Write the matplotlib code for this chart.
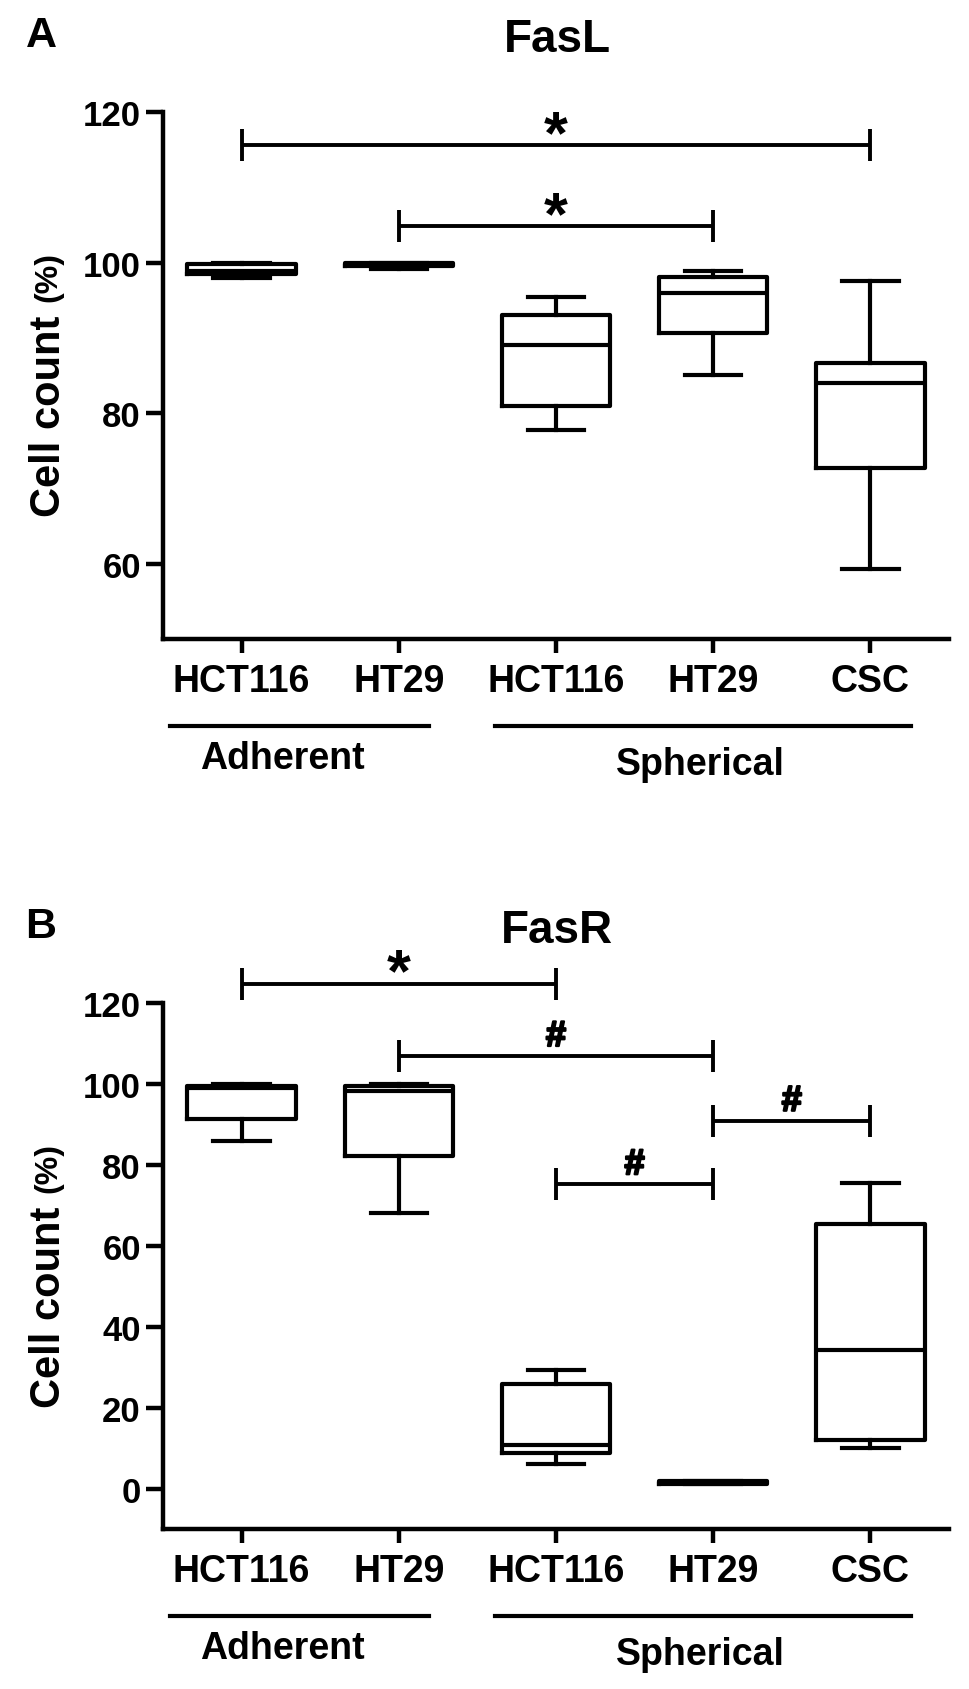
import matplotlib
matplotlib.use("Agg")
import matplotlib.pyplot as plt
import matplotlib.patheffects as pe
from matplotlib.transforms import blended_transform_factory

plt.rcParams['font.family'] = ['Liberation Sans', 'DejaVu Sans']
plt.rcParams['font.weight'] = 'bold'

# ---- data ----
categories = ['HCT116', 'HT29', 'HCT116', 'HT29', 'CSC']
positions = [1, 2, 3, 4, 5]
groups = ['Adherent', 'Spherical']

# FasL (panel A): whisker low, Q1, median, Q3, whisker high
fasl_whislo = [98.0, 99.1, 77.8, 85.1, 59.3]
fasl_q1 = [98.5, 99.5, 80.9, 90.7, 72.7]
fasl_med = [98.9, 99.8, 89.0, 96.0, 84.0]
fasl_q3 = [99.8, 100.0, 93.0, 98.1, 86.7]
fasl_whishi = [100.0, 100.0, 95.4, 98.9, 97.6]

# FasR (panel B)
fasr_whislo = [86.0, 68.2, 6.0, 1.0, 9.9]
fasr_q1 = [91.4, 82.1, 8.9, 1.0, 11.9]
fasr_med = [99.0, 98.3, 10.8, 1.4, 34.2]
fasr_q3 = [99.5, 99.5, 25.9, 1.8, 65.3]
fasr_whishi = [100.0, 100.0, 29.3, 1.8, 75.6]

# significance brackets: start, end, height, symbol
fasl_br_x1 = [1, 2]
fasl_br_x2 = [5, 4]
fasl_br_y = [115.6, 104.8]
fasl_br_sym = ['*', '*']

fasr_br_x1 = [1, 2, 3, 4]
fasr_br_x2 = [3, 4, 4, 5]
fasr_br_y = [124.8, 106.9, 75.2, 90.9]
fasr_br_sym = ['*', '#', '#', '#']

W, H = 969, 1690
fig = plt.figure(figsize=(W / 100, H / 100), dpi=100)


def fy(py):
    return 1 - py / H


def panel(top, bottom, ylim, yticks, whislo, q1, med, q3, whishi,
          bx1, bx2, by, bsym, letter, title):
    ax = fig.add_axes([163 / W, fy(bottom), (949 - 163) / W, (bottom - top) / H])
    stats = []
    for i in range(len(positions)):
        stats.append(dict(whislo=whislo[i], q1=q1[i], med=med[i], q3=q3[i],
                          whishi=whishi[i], fliers=[]))
    lw = 3.0
    ax.bxp(stats, positions=positions, widths=0.69, capwidths=0.36,
           showfliers=False,
           boxprops=dict(color='black', linewidth=lw),
           medianprops=dict(color='black', linewidth=lw),
           whiskerprops=dict(color='black', linewidth=lw),
           capprops=dict(color='black', linewidth=lw))
    ax.set_xlim(0.5, 5.5)
    ax.set_ylim(*ylim)
    ax.set_yticks(yticks)
    ax.set_yticklabels([str(t) for t in yticks], fontsize=25, fontweight='bold')
    ax.set_xticks(positions)
    ax.set_xticklabels([])
    for s in ['top', 'right']:
        ax.spines[s].set_visible(False)
    for s in ['left', 'bottom']:
        ax.spines[s].set_linewidth(3.2)
    ax.spines['left'].set_bounds(ylim[0], yticks[-1])
    ax.tick_params(axis='y', length=12.5, width=3.2, pad=3.5)
    ax.tick_params(axis='x', length=10, width=3.2)

    # brackets
    ppu = (bottom - top) / (ylim[1] - ylim[0])  # pixels per unit
    cap = 16 / ppu
    for x1, x2, y, sym in zip(bx1, bx2, by, bsym):
        kw = dict(color='black', linewidth=2.8, clip_on=False, solid_capstyle='butt')
        ax.plot([x1, x2], [y, y], **kw)
        ax.plot([x1, x1], [y - cap, y + cap], **kw)
        ax.plot([x2, x2], [y - cap, y + cap], **kw)
        if sym == '*':
            ax.annotate(sym, xy=((x1 + x2) / 2, y), xytext=(0, -7),
                        textcoords='offset pixels', ha='center', va='baseline',
                        fontsize=44, fontweight='bold', annotation_clip=False)
        else:
            ax.annotate(sym, xy=((x1 + x2) / 2, y), xytext=(0, 10),
                        textcoords='offset pixels', ha='center', va='baseline',
                        fontsize=26, fontweight='bold', annotation_clip=False,
                        path_effects=[pe.withStroke(linewidth=1.6, foreground='black')])

    # category labels and group lines below the axis
    tr = blended_transform_factory(ax.transData, fig.transFigure)
    for x, lab in zip(positions, categories):
        ax.text(x, fy(bottom + 52), lab, transform=tr, ha='center',
                va='baseline', fontsize=27, fontweight='bold')
    ax.plot([0.545, 2.19], [fy(bottom + 87)] * 2, transform=tr, color='black',
            linewidth=3.0, clip_on=False)
    ax.plot([2.61, 5.26], [fy(bottom + 87)] * 2, transform=tr, color='black',
            linewidth=3.0, clip_on=False)
    ax.text(1.26, fy(bottom + 129), groups[0], transform=tr, ha='center',
            va='baseline', fontsize=27, fontweight='bold')
    ax.text(3.92, fy(bottom + 135), groups[1], transform=tr, ha='center',
            va='baseline', fontsize=27, fontweight='bold')

    # y label: "Cell count" and smaller "(%)"
    mid = (top + bottom) / 2
    fig.text(60 / W, fy(mid + 40), 'Cell count', rotation=90,
             rotation_mode='anchor', ha='center', va='baseline',
             fontsize=30, fontweight='bold')
    fig.text(56 / W, fy(mid - 99), '(%)', rotation=90,
             rotation_mode='anchor', ha='center', va='baseline',
             fontsize=23, fontweight='bold')

    # panel letter and title
    fig.text(41 / W, fy(top - 66), letter, ha='center', va='baseline',
             fontsize=31, fontweight='bold')
    fig.text(557 / W, fy(top - 61), title, ha='center', va='baseline',
             fontsize=33, fontweight='bold')
    return ax


panel(113, 640, (50, 120), [60, 80, 100, 120],
      fasl_whislo, fasl_q1, fasl_med, fasl_q3, fasl_whishi,
      fasl_br_x1, fasl_br_x2, fasl_br_y, fasl_br_sym, 'A', 'FasL')
panel(1004, 1530, (-10, 120), [0, 20, 40, 60, 80, 100, 120],
      fasr_whislo, fasr_q1, fasr_med, fasr_q3, fasr_whishi,
      fasr_br_x1, fasr_br_x2, fasr_br_y, fasr_br_sym, 'B', 'FasR')

fig.savefig('out.png', dpi=100)
